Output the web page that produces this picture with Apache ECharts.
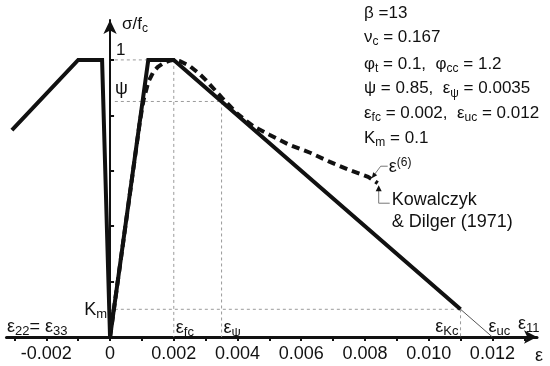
<!DOCTYPE html>
<html>
<head>
<meta charset="utf-8">
<script src="https://cdn.jsdelivr.net/npm/echarts@6/dist/echarts.min.js"></script>
<style>
html,body{margin:0;padding:0;background:#fff;}
#chart{width:550px;height:366px;}
</style>
</head>
<body>
<div id="chart"></div>
<script>
// ---- data ----
const SOLID_X = [-0.00308, -0.001, -0.00025, 0, 0.0012, 0.002, 0.011];
const SOLID_Y = [0.747, 1, 1, 0, 1, 1, 0.1];
const TAIL_X = [0.011, 0.012];
const TAIL_Y = [0.1, 0];
const KD_X = [0, 0.00094, 0.00105, 0.0012, 0.00135, 0.0015, 0.0017, 0.0019, 0.002, 0.0022, 0.0025, 0.0028, 0.003, 0.0033, 0.0035, 0.004, 0.0045, 0.005, 0.0056, 0.0063, 0.0069, 0.0075, 0.0081, 0.0084];
const KD_Y = [0, 0.78, 0.855, 0.92, 0.955, 0.975, 0.99, 0.998, 1.0, 0.995, 0.978, 0.95, 0.928, 0.89, 0.865, 0.805, 0.76, 0.73, 0.695, 0.664, 0.632, 0.603, 0.578, 0.555];
const EPS_FC = 0.002, EPS_PSI = 0.0035, EPS_KC = 0.011, EPS_UC = 0.012;
const PEAK = 1, PSI = 0.85, KM = 0.1;
const GUIDE_START = 0.00015;
const X_TICKS = [-0.003, -0.002, -0.001, 0, 0.001, 0.002, 0.003, 0.004, 0.005, 0.006, 0.007, 0.008, 0.009, 0.010, 0.011, 0.012, 0.013];
const X_LABELS = [-0.002, 0, 0.002, 0.004, 0.006, 0.008, 0.010, 0.012];
const Y_TICKS = [0.2, 0.4, 0.6, 0.8, 1.0];
const PARAM_LINES = [
  'β =13',
  'ν{s|c} = 0.167',
  'φ{s|t} = 0.1,  φ{s|cc} = 1.2',
  'ψ = 0.85,  ε{s|ψ} = 0.0035',
  'ε{s|fc} = 0.002,  ε{s|uc} = 0.012',
  'K{s|m} = 0.1'
];

const FONT = '"Liberation Sans", Arial, sans-serif';
const INK = '#111';
const GUIDE = '#9a9a9a';
const zip = (xs, ys) => xs.map((x, i) => [x, ys[i]]);

const chart = echarts.init(document.getElementById('chart'), null, {renderer: 'canvas'});

function guide(data) {
  return {type: 'line', data: data, symbol: 'none', silent: true, z: 1,
    lineStyle: {color: GUIDE, width: 1, type: [3, 3]}};
}

chart.setOption({
  animation: false,
  grid: {left: 6.5, right: 13, top: 20, bottom: 29},
  xAxis: {
    type: 'value', min: -0.00325, max: 0.0134,
    splitLine: {show: false},
    axisLine: {onZero: false, lineStyle: {color: INK, width: 3}, symbol: ['none', 'arrow'], symbolSize: [10, 13]},
    axisTick: {show: true, length: 4, lineStyle: {color: INK, width: 2}, customValues: X_TICKS},
    axisLabel: {fontFamily: FONT, fontSize: 18, color: INK, margin: 8, customValues: X_LABELS,
      formatter: v => v === 0 ? '0' : v.toFixed(3)}
  },
  yAxis: {
    type: 'value', min: 0, max: 1.144,
    splitLine: {show: false},
    axisLine: {onZero: true, lineStyle: {color: INK, width: 2}, symbol: ['none', 'arrow'], symbolSize: [10, 14]},
    axisTick: {show: true, inside: true, length: 4, lineStyle: {color: INK, width: 2}, customValues: Y_TICKS},
    axisLabel: {show: false}
  },
  series: [
    guide([[GUIDE_START, PEAK], [EPS_FC, PEAK]]),
    guide([[GUIDE_START, PSI], [EPS_PSI, PSI]]),
    guide([[GUIDE_START, KM], [EPS_KC, KM]]),
    guide([[EPS_FC, PEAK], [EPS_FC, 0]]),
    guide([[EPS_PSI, PSI], [EPS_PSI, 0]]),
    guide([[EPS_KC, KM], [EPS_KC, 0]]),
    {type: 'line', data: zip(TAIL_X, TAIL_Y), symbol: 'none', z: 2,
      lineStyle: {color: '#555', width: 1}},
    {type: 'line', data: zip(SOLID_X, SOLID_Y), symbol: 'none', z: 3,
      lineStyle: {color: INK, width: 4, join: 'miter'}},
    {type: 'line', data: zip(KD_X, KD_Y), symbol: 'none', smooth: false, z: 4,
      lineStyle: {color: INK, width: 4, type: [8, 5]}}
  ]
});

function px(x, y) { return chart.convertToPixel({gridIndex: 0}, [x, y]); }

const sub = {fontSize: 12, fontFamily: FONT, fill: INK, padding: [9, 0, 0, 0]};
const sup = {fontSize: 12, fontFamily: FONT, fill: INK, padding: [0, 0, 9, 0]};
function txt(x, y, text, opts) {
  opts = opts || {};
  return {type: 'text', x: x, y: y, z: 50, style: Object.assign({
    text: text, fontSize: opts.fs || 17, fontFamily: FONT, fill: INK,
    align: opts.align || 'left', verticalAlign: 'middle',
    rich: {s: Object.assign({}, sub, {fontSize: opts.sfs || 12}), p: sup}
  })};
}

const g = [];
// parameter block
PARAM_LINES.forEach((t, i) => {
  g.push(txt(364, 13 + i * 24.6 + (i > 1 ? 2 : 0), t));
});
// axis annotations
const o = px(0, 0);
const p1 = px(0, PEAK), pPsi = px(0, PSI), pKm = px(0, KM);
g.push(txt(o[0] + 12, 24, 'σ/f{s|c}', {fs: 17}));
g.push(txt(o[0] + 6, p1[1] - 10, '1', {fs: 17}));
g.push(txt(o[0] + 5, pPsi[1] - 12, 'ψ', {fs: 18}));
g.push(txt(o[0] - 3, pKm[1] + 1, 'K{s|m}', {fs: 18, align: 'right', sfs: 13}));
g.push(txt(7, o[1] - 10, 'ε{s|22}= ε{s|33}', {fs: 18, sfs: 13}));
const pfc = px(EPS_FC, 0), ppsi = px(EPS_PSI, 0), pkc = px(EPS_KC, 0), puc = px(EPS_UC, 0);
g.push(txt(pfc[0] + 2, o[1] - 9, 'ε{s|fc}', {fs: 18, sfs: 13}));
g.push(txt(ppsi[0] + 2, o[1] - 9, 'ε{s|ψ}', {fs: 18, sfs: 13}));
g.push(txt(pkc[0] - 2, o[1] - 10, 'ε{s|Kc}', {fs: 18, sfs: 13, align: 'right'}));
g.push(txt(puc[0] - 4, o[1] - 10, 'ε{s|uc}', {fs: 18, sfs: 13}));
g.push(txt(518, o[1] - 13, 'ε{s|11}', {fs: 18, sfs: 13}));
g.push(txt(535, o[1] + 19, 'ε', {fs: 18}));

// leader annotations to the end of Kowalczyk curve
const e = px(KD_X[KD_X.length - 1], KD_Y[KD_Y.length - 1]);
g.push({type: 'polyline', z: 40, shape: {points: [[e[0] + 10, e[1] - 17], [e[0] + 3, e[1] - 17], [e[0] - 3, e[1] - 9]]},
  style: {stroke: '#777', lineWidth: 1, fill: null}});
g.push({type: 'polygon', z: 41, shape: {points: [[e[0] - 6, e[1] - 5], [e[0] - 4.5, e[1] - 11], [e[0] - 0.5, e[1] - 8]]},
  style: {fill: INK}});
g.push(txt(e[0] + 11, e[1] - 16, 'ε{p|(6)}', {fs: 18}));
g.push({type: 'polyline', z: 40, shape: {points: [[e[0] + 12, e[1] + 20], [e[0] + 1, e[1] + 20], [e[0] + 1, e[1] + 6]]},
  style: {stroke: '#777', lineWidth: 1, fill: null}});
g.push({type: 'polygon', z: 41, shape: {points: [[e[0] + 1, e[1] + 2], [e[0] - 2, e[1] + 8], [e[0] + 4, e[1] + 8]]},
  style: {fill: INK}});
g.push(txt(e[0] + 14, e[1] + 17, 'Kowalczyk', {fs: 18}));
g.push(txt(e[0] + 14, e[1] + 39, '& Dilger (1971)', {fs: 18}));

chart.setOption({graphic: g});
</script>
</body>
</html>
